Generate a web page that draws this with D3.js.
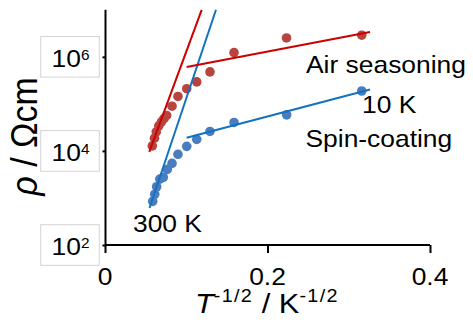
<!DOCTYPE html>
<html>
<head>
<meta charset="utf-8">
<script src="https://cdn.jsdelivr.net/npm/d3@7"></script>
<style>
  html, body { margin: 0; padding: 0; background: #fff; }
  svg { display: block; font-family: "Liberation Sans", Arial, sans-serif; }
</style>
</head>
<body>
<svg id="chart" width="473" height="326"></svg>
<script>
// ---- data ----
const airX   = [0.0582, 0.0609, 0.0631, 0.0662, 0.0695, 0.0726, 0.0759, 0.0825, 0.0898, 0.1006, 0.1129, 0.1292, 0.1588, 0.2234, 0.3160];
const airRho = [1.28e4, 1.87e4, 2.54e4, 3.41e4, 4.15e4, 4.85e4, 5.67e4, 8.93e4, 1.44e5, 2.10e5, 2.93e5, 4.78e5, 1.23e6, 2.52e6, 2.88e6];
const spinX   = [0.0587, 0.0612, 0.0636, 0.0674, 0.0718, 0.0767, 0.0825, 0.0898, 0.1006, 0.1129, 0.1292, 0.1588, 0.2236, 0.3160];
const spinRho = [848, 1200, 1730, 2520, 2740, 4050, 5430, 8480, 1.25e4, 1.76e4, 2.59e4, 4.03e4, 5.85e4, 1.88e5];
// fitted lines: [x0, x1], [rho0, rho1]
const airHighX = [0.0545, 0.119],  airHighRho = [9570, 1e7];
const spinHighX = [0.0548, 0.1366], spinHighRho = [611, 1e7];
const airLowX = [0.1005, 0.3262],  airLowRho = [6.11e5, 3.38e6];
const spinLowX = [0.1005, 0.3262], spinLowRho = [1.90e4, 2.02e5];
const xTicks = [0, 0.2, 0.4];
const xTickLabels = ["0", "0.2", "0.4"];
const yTicks = [1e2, 1e4, 1e6];
const yTickExp = ["2", "4", "6"];

// ---- layout ----
const svg = d3.select("#chart");
const SX = 1.1; // horizontal text stretch
const x = d3.scaleLinear().domain([0, 0.4]).range([105, 430]);
const y = d3.scaleLog().domain([1e2, 1e7]).range([245, 9.8]);

const redPt = "#b9433f", bluePt = "#4a7dbf";
const redLn = "#cc0000", blueLn = "#1272c0";

function stretchedText(px, py, anchor) {
  return svg.append("text")
    .attr("transform", `translate(${px},${py}) scale(${SX},1)`)
    .attr("text-anchor", anchor || "start")
    .attr("fill", "#000");
}

// y tick label boxes
yTicks.forEach((t, i) => {
  const ty = y(t);
  svg.append("rect")
    .attr("x", 40.7).attr("y", ty - 20.3)
    .attr("width", 58.6).attr("height", 40.6)
    .attr("fill", "#fff").attr("stroke", "#d4d4d4").attr("stroke-width", 1);
  const tx = stretchedText(89.5, ty + 10, "end").attr("font-size", 24);
  tx.append("tspan").text("10");
  tx.append("tspan").attr("font-size", 14).attr("dy", -6.7).text(yTickExp[i]);
});

// axes
const yAxis = d3.axisLeft(y).tickValues(yTicks).tickSize(3).tickFormat("");
const yG = svg.append("g").attr("transform", "translate(105.5,0)").call(yAxis);
yG.select(".domain").attr("d", `M0,${y(1e7)}V${y(1e2)}`).attr("stroke", "#000").attr("stroke-width", 2);
yG.selectAll(".tick line").attr("stroke", "#000").attr("stroke-width", 2);

const xAxis = d3.axisBottom(x).tickValues(xTicks).tickSize(8).tickFormat("");
const xG = svg.append("g").attr("transform", `translate(0,${y(1e2)})`).call(xAxis);
xG.select(".domain").attr("d", `M${x(0)},0H${x(0.4)}`).attr("stroke", "#000").attr("stroke-width", 2);
xG.selectAll(".tick line").attr("stroke", "#000").attr("stroke-width", 2);

// x tick labels
xTicks.forEach((t, i) => {
  stretchedText(x(t), 285, "middle").attr("font-size", 24).text(xTickLabels[i]);
});

// points
function drawPoints(xs, ys, col) {
  svg.append("g").selectAll("circle")
    .data(xs.map((v, i) => [v, ys[i]]))
    .join("circle")
    .attr("cx", d => x(d[0])).attr("cy", d => y(d[1]))
    .attr("r", 4.8).attr("fill", col);
}
drawPoints(airX, airRho, redPt);
drawPoints(spinX, spinRho, bluePt);

// fit lines
const line = d3.line().x(d => x(d[0])).y(d => y(d[1]));
function drawLine(xs, ys, col) {
  svg.append("path")
    .datum(xs.map((v, i) => [v, ys[i]]))
    .attr("d", line).attr("fill", "none")
    .attr("stroke", col).attr("stroke-width", 2);
}
drawLine(airHighX, airHighRho, redLn);
drawLine(spinHighX, spinHighRho, blueLn);
drawLine(airLowX, airLowRho, redLn);
drawLine(spinLowX, spinLowRho, blueLn);

// annotations
stretchedText(306, 72.5).attr("font-size", 24).text("Air seasoning");
stretchedText(362, 113.3).attr("font-size", 24).text("10 K");
stretchedText(305.5, 147).attr("font-size", 24).text("Spin-coating");
stretchedText(133, 232.3).attr("font-size", 24).text("300 K");

// y axis title
const yt = svg.append("text")
  .attr("transform", `translate(37,136.5) scale(${SX},1) rotate(-90)`)
  .attr("text-anchor", "middle").attr("font-size", 34).attr("fill", "#000");
yt.append("tspan").attr("font-style", "italic").text("ρ");
yt.append("tspan").text(" / Ωcm");

// x axis title
const xt = stretchedText(195, 313).attr("font-size", 28);
xt.append("tspan").attr("font-style", "italic").text("T");
xt.append("tspan").attr("font-size", 18).attr("dy", -11).attr("letter-spacing", 1.2).text("-1/2");
xt.append("tspan").attr("dy", 11).text(" / K");
xt.append("tspan").attr("font-size", 18).attr("dy", -11).attr("letter-spacing", 1.2).text("-1/2");
</script>
</body>
</html>
